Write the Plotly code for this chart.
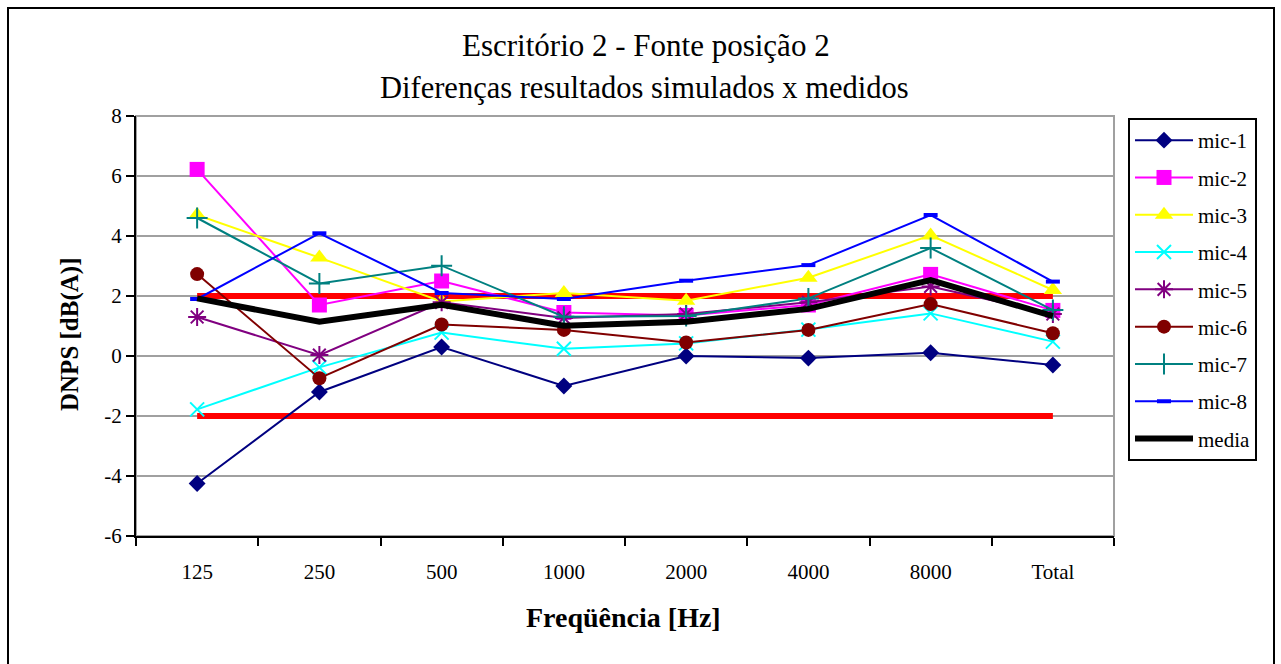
import plotly.graph_objects as go

categories = ["125", "250", "500", "1000", "2000", "4000", "8000", "Total"]

mic_1 = [-4.25, -1.2, 0.3, -1.0, 0.0, -0.07, 0.11, -0.3]
mic_2 = [6.22, 1.7, 2.5, 1.45, 1.35, 1.7, 2.72, 1.52]
mic_3 = [4.7, 3.28, 1.82, 2.1, 1.84, 2.61, 4.02, 2.2]
mic_4 = [-1.78, -0.38, 0.78, 0.24, 0.42, 0.88, 1.42, 0.48]
mic_5 = [1.3, 0.03, 1.79, 1.27, 1.4, 1.79, 2.32, 1.4]
mic_6 = [2.73, -0.74, 1.05, 0.87, 0.45, 0.87, 1.73, 0.76]
mic_7 = [4.6, 2.42, 3.01, 1.31, 1.33, 1.92, 3.6, 1.53]
mic_8 = [1.9, 4.09, 2.1, 1.9, 2.51, 3.03, 4.7, 2.48]
media = [1.92, 1.14, 1.71, 1.01, 1.14, 1.57, 2.53, 1.33]

limit_upper = 2
limit_lower = -2

y_tickvals = [-6, -4, -2, 0, 2, 4, 6, 8]
y_ticktext = ["-6", "-4", "-2", "0", "2", "4", "6", "8"]

title_line1 = "Escritório 2 - Fonte posição 2"
title_line2 = "Diferenças resultados simulados x medidos"
x_title = "Freqüência [Hz]"
y_title = "DNPS [dB(A)]"

FONT = "Liberation Serif, Times New Roman, serif"

series = [
    ("mic-1", mic_1, "#000080", dict(symbol="diamond", size=13, color="#000080")),
    ("mic-2", mic_2, "#FF00FF", dict(symbol="square", size=15, color="#FF00FF")),
    ("mic-3", mic_3, "#FFFF00", dict(symbol="triangle-up", size=16, color="#FFFF00")),
    ("mic-4", mic_4, "#00FFFF", dict(symbol="x-thin-open", size=14, color="#00FFFF",
                                     line=dict(width=2, color="#00FFFF"))),
    ("mic-5", mic_5, "#800080", dict(symbol="asterisk-open", size=15, color="#800080",
                                     line=dict(width=2, color="#800080"))),
    ("mic-6", mic_6, "#800000", dict(symbol="circle", size=14, color="#800000")),
    ("mic-7", mic_7, "#008080", dict(symbol="cross-thin-open", size=15, color="#008080",
                                     line=dict(width=2, color="#008080"))),
    ("mic-8", mic_8, "#0000FF", dict(symbol="line-ew-open", size=10, color="#0000FF",
                                     line=dict(width=4, color="#0000FF"))),
]

fig = go.Figure()

for lim in (limit_upper, limit_lower):
    fig.add_trace(go.Scatter(
        x=[categories[0], categories[-1]], y=[lim, lim], mode="lines",
        line=dict(color="#FF0000", width=6), showlegend=False, hoverinfo="skip"))

for name, vals, col, mk in series:
    fig.add_trace(go.Scatter(
        x=categories, y=vals, name=name, mode="lines+markers",
        line=dict(color=col, width=2), marker=mk, legendgroup=name))

fig.add_trace(go.Scatter(
    x=categories, y=media, name="media", mode="lines",
    line=dict(color="#000000", width=6), legendgroup="media"))

W, H = 1281, 664
L, R, T, B = 136, 1114, 116, 536

def px_x(p):
    return (p - L) / (R - L)

def px_y(p):
    return (B - p) / (B - T)

fig.update_layout(
    width=W, height=H,
    margin=dict(l=L, r=W - R, t=T, b=H - B),
    paper_bgcolor="white", plot_bgcolor="white",
    font=dict(family=FONT, size=21, color="black"),
    legend=dict(
        xref="container", yref="container",
        x=1128 / W, y=1 - 118 / H, xanchor="left", yanchor="top",
        bordercolor="black", borderwidth=2, bgcolor="white",
        font=dict(family=FONT, size=21, color="black"),
        tracegroupgap=7, itemwidth=58, maxheight=420,
    ),
    xaxis=dict(
        type="category", categoryorder="array", categoryarray=categories,
        range=[-0.5, 7.5],
        showline=True, linecolor="black", linewidth=2,
        ticks="outside", tickson="boundaries", ticklen=8, tickwidth=2, tickcolor="black",
        showgrid=False, zeroline=False, ticklabelstandoff=16,
        tickfont=dict(family=FONT, size=21, color="black"),
    ),
    yaxis=dict(
        range=[-6, 8], tickmode="array", tickvals=y_tickvals, ticktext=y_ticktext,
        showline=True, linecolor="black", linewidth=2,
        ticks="outside", ticklen=8, tickwidth=2, tickcolor="black",
        showgrid=True, gridcolor="#A0A0A0", gridwidth=2, zeroline=False,
        tickfont=dict(family=FONT, size=21, color="black"),
    ),
    shapes=[
        dict(type="rect", xref="paper", yref="paper", x0=0, x1=1, y0=0, y1=1,
             line=dict(color="#A0A0A0", width=2), layer="below"),
        dict(type="rect", xref="paper", yref="paper",
             x0=px_x(8), x1=px_x(1274), y0=px_y(700), y1=px_y(8),
             line=dict(color="black", width=2), layer="below"),
    ],
    annotations=[
        dict(text=title_line1, xref="paper", yref="paper", x=px_x(646), y=px_y(46),
             showarrow=False, xanchor="center", yanchor="middle",
             font=dict(family=FONT, size=31, color="black")),
        dict(text=title_line2, xref="paper", yref="paper", x=px_x(644), y=px_y(88),
             showarrow=False, xanchor="center", yanchor="middle",
             font=dict(family=FONT, size=30.5, color="black")),
        dict(text="<b>" + x_title + "</b>", xref="paper", yref="paper",
             x=px_x(623), y=px_y(617), showarrow=False, xanchor="center", yanchor="middle",
             font=dict(family=FONT, size=28, color="black")),
        dict(text="<b>" + y_title + "</b>", xref="paper", yref="paper",
             x=px_x(70), y=px_y(335), showarrow=False, xanchor="center", yanchor="middle",
             textangle=-90, font=dict(family=FONT, size=25, color="black")),
    ],
)

fig.write_html("out.html", config={"displayModeBar": False},
               post_script="document.body.style.margin='0';")
